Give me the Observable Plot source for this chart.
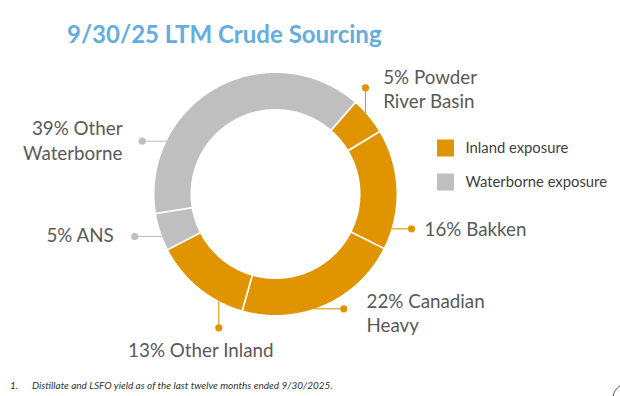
<!DOCTYPE html>
<html><head><meta charset="utf-8">
<script src="https://cdn.jsdelivr.net/npm/d3@7"></script>
<script src="https://cdn.jsdelivr.net/npm/@observablehq/plot@0.6"></script>
<style>
html,body{margin:0;padding:0;background:#fff;}
body{width:620px;height:396px;overflow:hidden;position:relative;font-family:Lato,sans-serif;}
#chart{position:absolute;left:0;top:0;}
#title{position:absolute;left:67px;top:19.6px;font:bold 24px/28.8px Lato,sans-serif;color:#63ADE0;white-space:nowrap;}
#foot{position:absolute;left:0;top:379px;width:620px;font:italic 10px/12px Lato,sans-serif;color:#333;}
#foot .n{position:absolute;left:10px;}
#foot .t{position:absolute;left:32px;white-space:nowrap;}
#logo{position:absolute;left:612px;top:382px;width:34px;height:34px;border:1.5px solid #4a5866;border-radius:50%;}
</style></head><body>
<div id="chart"></div>
<div id="title">9/30/25 LTM Crude Sourcing</div>
<div id="foot"><span class="n">1.</span><span class="t">Distillate and LSFO yield as of the last twelve months ended 9/30/2025.</span></div>
<div id="logo"></div>
<script>
// ---- data ----
const categories = ["Powder River Basin", "Bakken", "Canadian Heavy", "Other Inland", "ANS", "Other Waterborne"];
const shares = [5, 16, 22, 13, 5, 39];
const exposure = ["Inland exposure", "Inland exposure", "Inland exposure", "Inland exposure", "Waterborne exposure", "Waterborne exposure"];
const labels = ["5% Powder\nRiver Basin", "16% Bakken", "22% Canadian\nHeavy", "13% Other Inland", "5% ANS", "39% Other\nWaterborne"];
const legendLabels = ["Inland exposure", "Waterborne exposure"];
const colors = ["#DF9400", "#BFBFBF"];

// ---- layout (pixels) ----
const W = 620, H = 396, CX = 275, CY = 193.5;
const R = 121, r = 85, startDeg = 41.1;
const labelLayout = [
  {dot: [365, 87.3], leader: "v", text: [382.7, 107.7], anchor: "start"},
  {dot: [411, 228.3], leader: "h", text: [424, 235], anchor: "start"},
  {dot: [343.3, 308.3], leader: "h", text: [366, 331.7], anchor: "start"},
  {dot: [218.3, 327.3], leader: "v", text: [200.3, 356.7], anchor: "middle"},
  {dot: [134.3, 236], leader: "h", text: [113.3, 241.7], anchor: "end"},
  {dot: [141.7, 140.7], leader: "h", text: [122, 159.3], anchor: "end"}
];
const legendLayout = {x: 437, y0: 139.5, step: 34, size: 17, textX: 465};

const px = (x) => x - CX;
const py = (y) => CY - y;

const rows = categories.map((c, i) => ({category: c, share: shares[i], exposure: exposure[i], label: labels[i], ...labelLayout[i]}));
const a0 = startDeg * Math.PI / 180;
const arcs = d3.pie().sort(null).value(d => d.share).startAngle(a0).endAngle(a0 + 2 * Math.PI)(rows);

const ring = arcs.flatMap((a, i) => {
  const n = Math.max(2, Math.ceil((a.endAngle - a.startAngle) / (Math.PI / 360)));
  const pts = [];
  for (let k = 0; k <= n; ++k) {
    const t = a.startAngle + (a.endAngle - a.startAngle) * k / n;
    pts.push({i, exposure: a.data.exposure, x: R * Math.sin(t), y: R * Math.cos(t)});
  }
  for (let k = n; k >= 0; --k) {
    const t = a.startAngle + (a.endAngle - a.startAngle) * k / n;
    pts.push({i, exposure: a.data.exposure, x: r * Math.sin(t), y: r * Math.cos(t)});
  }
  return pts;
});

const leaders = rows.map(d => {
  const dx = px(d.dot[0]), dy = py(d.dot[1]);
  let x1, y1;
  if (d.leader === "v") { x1 = dx; y1 = Math.sign(dy) * Math.sqrt(R * R - dx * dx); }
  else { y1 = dy; x1 = Math.sign(dx) * Math.sqrt(R * R - dy * dy); }
  return {...d, x1, y1, x2: dx, y2: dy};
});

const textOpts = (anchor) => ({
  filter: d => d.anchor === anchor,
  x: d => px(d.text[0]), y: d => py(d.text[1]), text: "label",
  textAnchor: anchor, lineAnchor: "bottom", lineHeight: 1.3,
  fontSize: 18.8, fontFamily: "Lato, sans-serif", fill: "#595959"
});

const legendRows = legendLabels.map((l, i) => ({label: l, i}));

const chart = Plot.plot({
  width: W, height: H, margin: 0,
  x: {domain: [-CX, W - CX], axis: null},
  y: {domain: [CY - H, CY], axis: null},
  color: {domain: legendLabels, range: colors},
  style: {fontFamily: "Lato, sans-serif", background: "transparent", overflow: "visible"},
  marks: [
    Plot.line(ring, {x: "x", y: "y", z: "i", fill: "exposure", stroke: "none", curve: "linear"}),
    Plot.link(arcs, {
      x1: a => (r - 1) * Math.sin(a.startAngle), y1: a => (r - 1) * Math.cos(a.startAngle),
      x2: a => (R + 1) * Math.sin(a.startAngle), y2: a => (R + 1) * Math.cos(a.startAngle),
      stroke: "white", strokeWidth: 1.8
    }),
    Plot.link(leaders, {x1: "x1", y1: "y1", x2: "x2", y2: "y2", stroke: "exposure", strokeWidth: 1.1}),
    Plot.dot(leaders, {x: "x2", y: "y2", r: 3.6, fill: "exposure", stroke: "none"}),
    Plot.text(rows, textOpts("start")),
    Plot.text(rows, textOpts("middle")),
    Plot.text(rows, textOpts("end")),
    Plot.rect(legendRows, {
      x1: d => px(legendLayout.x), x2: d => px(legendLayout.x + legendLayout.size),
      y1: d => py(legendLayout.y0 + d.i * legendLayout.step), y2: d => py(legendLayout.y0 + d.i * legendLayout.step + legendLayout.size),
      fill: "label"
    }),
    Plot.text(legendRows, {
      x: d => px(legendLayout.textX), y: d => py(legendLayout.y0 + d.i * legendLayout.step + legendLayout.size / 2),
      text: "label", textAnchor: "start", fontSize: 14.8, fontFamily: "Lato, sans-serif", fill: "#404040"
    })
  ]
});
document.getElementById("chart").appendChild(chart);
</script>
</body></html>
